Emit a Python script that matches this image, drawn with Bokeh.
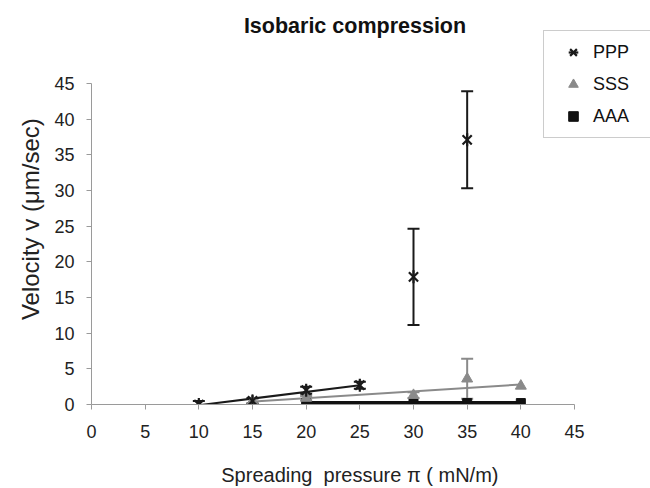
import math
from bokeh.plotting import figure
from bokeh.models import (ColumnDataSource, Whisker, TeeHead, Legend, LegendItem,
                          Label, Range1d, FixedTicker)
from bokeh.embed import file_html
from bokeh.resources import INLINE

# ---- data ----
pressure_ppp = [10, 15, 20, 25, 30, 35]
velocity_ppp = [0.0, 0.5, 2.0, 2.7, 17.9, 37.1]
error_ppp = [0.5, 0.4, 0.5, 0.5, 6.75, 6.8]

pressure_sss = [15, 20, 30, 35, 40]
velocity_sss = [0.5, 0.9, 1.3, 3.6, 2.6]
error_sss = [0.3, 0.3, 0.4, 2.8, 0.0]

pressure_aaa = [20, 30, 35, 40]
velocity_aaa = [0.2, 0.2, 0.2, 0.2]

trend_ppp_x = [10, 25]
trend_ppp_y = [-0.1, 2.7]
trend_sss_x = [15, 40]
trend_sss_y = [0.4, 2.8]

x_ticks = [0, 5, 10, 15, 20, 25, 30, 35, 40, 45]
y_ticks = [0, 5, 10, 15, 20, 25, 30, 35, 40, 45]
axis_max = 45

FONT = "Liberation Sans"
BLACK = "#1a1a1a"
GRAY = "#8a8a8a"

W, H = 650, 488
LEFT, BOTTOM_Y = 91, 404            # pixel position of the axes' origin
PX_X = 483 / axis_max               # pixels per unit on x
PX_Y = 321 / axis_max               # pixels per unit on y

p = figure(width=W, height=H, title=None,
           x_range=Range1d(0, (W - LEFT) / PX_X), y_range=Range1d(0, BOTTOM_Y / PX_Y),
           output_backend="svg", toolbar_location=None,
           min_border_left=LEFT, min_border_right=0, min_border_top=0,
           min_border_bottom=H - BOTTOM_Y)
p.outline_line_color = None
p.grid.visible = False
p.background_fill_color = "white"
p.border_fill_color = "white"

for ax in (p.xaxis[0], p.yaxis[0]):
    ax.bounds = (0, axis_max)
    ax.axis_line_color = "#9a9a9a"
    ax.major_tick_line_color = "#9a9a9a"
    ax.major_tick_in = 0
    ax.major_tick_out = 5
    ax.minor_tick_line_color = None
    ax.major_label_text_font = FONT
    ax.major_label_text_font_size = "18px"
    ax.major_label_text_color = "#222222"
    ax.axis_label_text_font = FONT
    ax.axis_label_text_font_style = "normal"
    ax.axis_label_text_color = "#222222"

p.xaxis.ticker = FixedTicker(ticks=x_ticks)
p.yaxis.ticker = FixedTicker(ticks=y_ticks)
p.xaxis.major_label_standoff = 15
p.yaxis.major_label_standoff = 12
p.xaxis.axis_label = "Spreading\u00a0 pressure \u03c0 ( mN/m)" + "\u00a0" * 4
p.yaxis.axis_label = "Velocity v (\u03bcm/sec)" + "\u00a0" * 5
p.xaxis.axis_label_text_font_size = "20px"
p.yaxis.axis_label_text_font_size = "24px"
p.xaxis.axis_label_standoff = 23
p.yaxis.axis_label_standoff = 7

# trend / connecting lines
p.line(trend_sss_x, trend_sss_y, line_color=GRAY, line_width=2)
p.line(trend_ppp_x, trend_ppp_y, line_color=BLACK, line_width=2)
p.line(pressure_aaa, velocity_aaa, line_color="#111111", line_width=4)

# error bars
src_ppp = ColumnDataSource(dict(x=pressure_ppp, y=velocity_ppp,
                                upper=[v + e for v, e in zip(velocity_ppp, error_ppp)],
                                lower=[v - e for v, e in zip(velocity_ppp, error_ppp)]))
sx = [x for x, e in zip(pressure_sss, error_sss) if e > 0]
sy = [v for v, e in zip(velocity_sss, error_sss) if e > 0]
se = [e for e in error_sss if e > 0]
src_sss_err = ColumnDataSource(dict(x=sx, upper=[v + e for v, e in zip(sy, se)],
                                    lower=[v - e for v, e in zip(sy, se)]))

p.add_layout(Whisker(source=src_sss_err, base="x", upper="upper", lower="lower",
                     line_color=GRAY, line_width=2,
                     upper_head=TeeHead(size=12, line_color=GRAY, line_width=2),
                     lower_head=TeeHead(size=12, line_color=GRAY, line_width=2)))
p.add_layout(Whisker(source=src_ppp, base="x", upper="upper", lower="lower",
                     line_color=BLACK, line_width=2,
                     upper_head=TeeHead(size=12, line_color=BLACK, line_width=2),
                     lower_head=TeeHead(size=12, line_color=BLACK, line_width=2)))

# markers
r_aaa = p.scatter(pressure_aaa, velocity_aaa, marker="square", size=9,
                  fill_color="#111111", line_color="#111111")
r_sss = p.scatter(pressure_sss, velocity_sss, marker="triangle", size=11,
                  fill_color=GRAY, line_color=GRAY)
r_ppp = p.scatter("x", "y", source=src_ppp, marker="x", size=13,
                  line_color=BLACK, line_width=2.2)
r_ppp_bar = p.scatter("x", "y", source=src_ppp, marker="dash", size=13, angle=math.pi / 2,
                      line_color=BLACK, line_width=2.2)

legend = Legend(items=[LegendItem(label="PPP", renderers=[r_ppp, r_ppp_bar]),
                       LegendItem(label="SSS", renderers=[r_sss]),
                       LegendItem(label="AAA", renderers=[r_aaa])],
                location=(543 - LEFT, BOTTOM_Y - 138), padding=9, spacing=8, margin=0,
                glyph_width=40, glyph_height=24, label_height=20, label_standoff=0,
                label_width=50,
                label_text_font=FONT, label_text_font_size="18px", label_text_color="#111111",
                border_line_color="#9a9a9a", border_line_width=1,
                background_fill_color="white", background_fill_alpha=1)
p.add_layout(legend)

title = Label(x=(354.5 - LEFT) / PX_X, y=(BOTTOM_Y - 25) / PX_Y, text="Isobaric compression",
              text_align="center", text_baseline="middle", text_font=FONT,
              text_font_size="21.5px", text_font_style="bold", text_color="#111111")
p.add_layout(title)

open("out.html", "w").write(file_html(p, INLINE))
